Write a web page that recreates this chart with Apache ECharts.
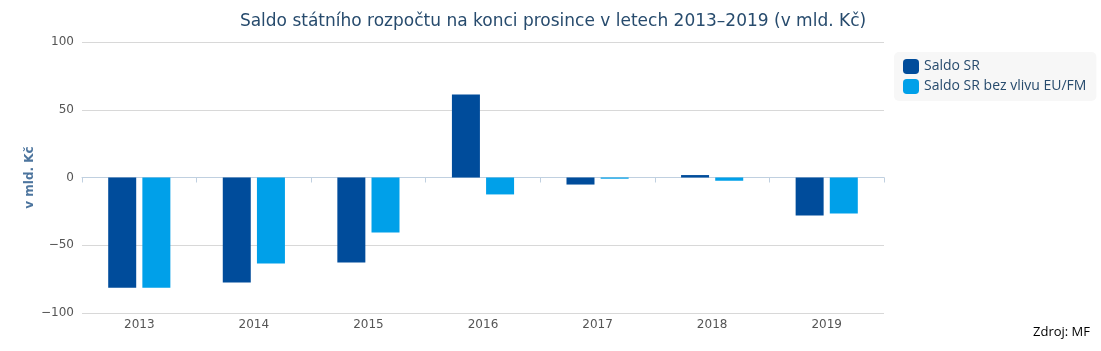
<!DOCTYPE html>
<html>
<head>
<meta charset="utf-8">
<title>Saldo SR</title>
<script src="https://cdn.jsdelivr.net/npm/echarts@6/dist/echarts.min.js"></script>
<style>
  html, body { margin: 0; padding: 0; background: #fff; }
  #chart { width: 1101px; height: 351px; }
</style>
</head>
<body>
<div id="chart"></div>
<script>
// data (mld. Kč)
const years = ['2013', '2014', '2015', '2016', '2017', '2018', '2019'];
const saldoSR = [-81.3, -77.5, -62.7, 61.3, -5.2, 1.8, -28.0];
const saldoBezEU = [-81.3, -63.5, -40.6, -12.5, -0.9, -2.4, -26.6];
const yTicks = [-100, -50, 0, 50, 100];

const chart = echarts.init(document.getElementById('chart'));

const option = {
  animation: false,
  textStyle: { fontFamily: 'DejaVu Sans' },
  title: {
    text: 'Saldo státního rozpočtu na konci prosince v letech 2013–2019 (v mld. Kč)',
    left: 548,
    textAlign: 'center',
    top: 8,
    textStyle: { fontSize: 17, fontWeight: 'normal', color: '#274b6d', fontFamily: 'DejaVu Sans' }
  },
  legend: {
    orient: 'vertical',
    left: 894,
    top: 52,
    width: 199,
    padding: [7, 10, 7, 9],
    itemGap: 5,
    itemWidth: 16,
    itemHeight: 15,
    backgroundColor: '#f7f7f7',
    borderRadius: 5,
    icon: 'roundRect',
    textStyle: { fontSize: 14, color: '#274b6d', fontFamily: 'Open Sans' },
    data: ['Saldo SR', 'Saldo SR bez vlivu EU/FM']
  },
  grid: { left: 82, right: 217, top: 42, bottom: 38 },
  xAxis: {
    type: 'category',
    data: years,
    axisLine: { lineStyle: { color: '#c0d0e0' } },
    axisTick: { show: true, lineStyle: { color: '#c0d0e0' }, length: 5 },
    axisLabel: { color: '#555', fontSize: 12, margin: 6 },
    splitLine: { show: false }
  },
  yAxis: {
    type: 'value',
    min: yTicks[0],
    max: yTicks[yTicks.length - 1],
    interval: 50,
    name: 'v mld. Kč',
    nameLocation: 'middle',
    nameGap: 46,
    nameMoveOverlap: false,
    nameTextStyle: { color: '#4d759e', fontWeight: 'bold', fontSize: 12 },
    axisLine: { show: false },
    axisTick: { show: false },
    axisLabel: {
      color: '#555', fontSize: 12, margin: 8,
      formatter: v => String(v).replace('-', '−')
    },
    splitLine: { lineStyle: { color: '#d8d8d8', width: 1 } }
  },
  series: [
    {
      name: 'Saldo SR',
      type: 'bar',
      data: saldoSR,
      barWidth: 28,
      barGap: '22%',
      barMinHeight: 1,
      itemStyle: { color: '#004c9b' }
    },
    {
      name: 'Saldo SR bez vlivu EU/FM',
      type: 'bar',
      data: saldoBezEU,
      barWidth: 28,
      barMinHeight: 1,
      itemStyle: { color: '#00a0e9' }
    }
  ],
  graphic: [
    {
      type: 'text',
      right: 11,
      top: 326,
      style: { text: 'Zdroj: MF', fill: '#000', fontSize: 13, fontFamily: 'Open Sans' }
    }
  ]
};

chart.setOption(option);
</script>
</body>
</html>
